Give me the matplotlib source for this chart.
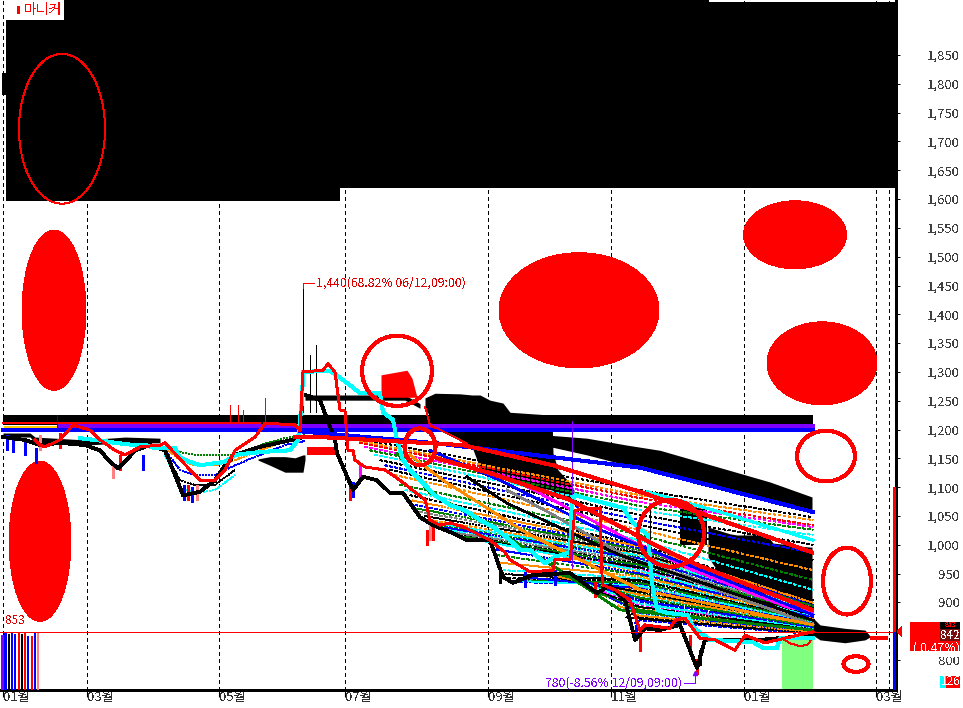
import matplotlib
matplotlib.use("Agg")
import matplotlib.pyplot as plt
from matplotlib.patches import Ellipse, Rectangle

plt.rcParams['font.family'] = ['Noto Sans CJK KR', 'DejaVu Sans']
plt.rcParams['lines.antialiased'] = False
plt.rcParams['patch.antialiased'] = False
plt.rcParams['text.antialiased'] = False

# ------------------ Axis values ------------------
month_x = [3, 87, 219, 345, 488, 611, 744, 876]
month_labels = ['01월', '03월', '05월', '07월', '09월', '11월', '01월', '03월']
extra_grid_x = [889]
price_ticks = [800, 900, 950, 1000, 1050, 1100, 1150, 1200, 1250, 1300, 1350, 1400,
               1450, 1500, 1550, 1600, 1650, 1700, 1750, 1800, 1850]

# ------------------ Volume bars ------------------
vol_x = [2.5, 5.5, 9, 12, 15, 19, 22, 25, 28, 32, 35, 38]
vol_top = [843, 847, 845, 849, 845, 847, 845, 849, 842, 842, 847, 849]
vol_colors = ['#8000ff', 'blue', 'black', 'blue', 'blue', 'red', 'black', 'red', 'blue', 'red', 'blue', '#ff8080']

# ------------------ Black clouds ------------------
cloud_a_x = [425, 435, 460, 472, 480, 490, 503, 510, 552, 553, 558, 570, 574]
cloud_a_top = [1255, 1263, 1262, 1260, 1260, 1251, 1246, 1230, 1225, 1159, 1130, 1107, 1095]
cloud_a_low = [1237, 1208, 1182, 1170, 1133, 1126, 1116, 1109, 1095, 1092, 1086, 1078, 1069]
cloud_b_x = [543, 587, 627, 660, 700, 770, 812]
cloud_b_top = [1191, 1185, 1173, 1164, 1144, 1109, 1083]
cloud_b_low = [1173, 1156, 1138, 1126, 1109, 1074, 1057]
cloud_c_x = [680, 707]
cloud_c_top = [1064, 1064]
cloud_c_low = [1000, 1000]
cloud_d_x = [708, 717, 730, 737, 767, 773, 810, 812]
cloud_d_top = [1031, 1026, 1019, 1017, 1017, 1003, 996, 996]
cloud_d_low = [979, 956, 939, 935, 916, 913, 890, 890]
cloud_e_x = [813, 820, 845, 865, 870]
cloud_e_top = [873, 861, 855, 852, 842]
cloud_e_low = [843, 835, 830, 835, 840]
cloud_f_x = [258, 270, 285, 295, 303, 305]
cloud_f_top = [1149, 1153, 1153, 1151, 1156, 1156]
cloud_f_low = [1147, 1138, 1126, 1126, 1126, 1147]
cloud_g_x = [3, 30, 35, 85, 125, 160]
cloud_g_top = [1194, 1194, 1187, 1182, 1187, 1185]
cloud_g_low = [1187, 1187, 1177, 1173, 1177, 1177]
bar_x = [305, 405, 420]
bar_top = [1260, 1260, 1245]
bar_low = [1251, 1251, 1237]

# ------------------ Moving average fan ------------------
fan_start_x = [350, 355, 360, 365, 370, 375, 380, 385, 390, 395, 400, 405, 410, 415, 420, 430, 440, 450, 460,
               470, 480, 490, 497, 503, 508, 515, 525, 535, 545, 555, 565, 575, 585, 595, 605, 615, 622, 630]
fan_start = [1187, 1182, 1177, 1170, 1164, 1156, 1147, 1138, 1130, 1121, 1104, 1095, 1086, 1069, 1057, 1043, 1034, 1026, 1017,
             1012, 1008, 1005, 982, 956, 942, 935, 939, 948, 948, 948, 949, 942, 930, 918, 913, 904, 887, 861]
fan_mid = [1095, 1086, 1081, 1074, 1067, 1060, 1052, 1043, 1034, 1026, 1017, 1008, 1000, 994, 989, 984, 979, 974, 968,
           963, 958, 953, 948, 942, 937, 932, 927, 921, 916, 911, 906, 901, 895, 890, 885, 880, 875, 869]
fan_end = [1048, 1043, 1034, 1031, 1026, 1017, 1000, 986, 974, 956, 939, 922, 904, 895, 892, 888, 885, 883, 880,
           878, 876, 875, 873, 869, 868, 866, 864, 862, 861, 859, 857, 855, 854, 852, 850, 849, 847, 845]
fan_colors = ['black', '#ff8c00', 'red', '#ff00ff', 'green', 'cyan', 'black', 'blue', 'black', '#ff8c00', 'green', 'cyan',
              'black', 'blue', '#808080', '#ff8c00', 'green', 'cyan', 'black', 'blue', '#ff00ff', '#ff8c00', 'green', 'cyan',
              'black', 'blue', '#808080', '#ff8c00', 'green', 'cyan', 'black', 'blue', '#ff00ff', '#ff8c00', 'green', 'cyan',
              'black', 'blue']

# in-between averages, the fan is very tight in the lower part only
fan2_start_x = [412, 417, 425, 435, 445, 455, 465,
                475, 485, 493, 500, 505, 511, 520, 530, 540, 550, 560, 570, 580, 590, 600, 610, 618, 626]
fan2_start = [1077, 1063, 1050, 1038, 1030, 1021, 1014,
              1010, 1006, 993, 969, 949, 938, 937, 943, 948, 948, 948, 945, 936, 924, 915, 908, 895, 874]
fan2_mid = [997, 991, 986, 981, 976, 971, 965,
            960, 955, 950, 945, 939, 934, 929, 924, 918, 913, 908, 903, 898, 892, 887, 882, 877, 872]
fan2_end = [899, 893, 890, 886, 884, 881, 879,
            877, 875, 874, 871, 868, 867, 865, 863, 861, 860, 858, 856, 854, 853, 851, 849, 848, 846]
fan2_colors = ['#ff8c00', 'green', 'black', 'cyan', 'blue', '#808080', 'green', 'black', 'cyan', 'blue', '#ff8c00', 'black',
               'green', 'cyan', 'blue', 'black', '#ff8c00', 'green', 'blue', 'cyan', 'black', 'green', 'blue', '#ff8c00', 'black']

# short averages around the dips in spring
dip_x = [165, 180, 195, 215, 235]
dip_1 = [1168, 1161, 1156, 1156, 1156]
dip_2 = [1168, 1147, 1138, 1138, 1147]
dip_3 = [1164, 1130, 1121, 1121, 1138]
dip_4 = [1160, 1112, 1104, 1104, 1130]
dip_5 = [1156, 1100, 1090, 1095, 1121]
dip_colors = ['green', '#ff8c00', 'blue', 'black', 'cyan']
rise_x = [235, 260, 285, 305]
rise_1 = [1156, 1173, 1185, 1190]
rise_2 = [1147, 1164, 1180, 1185]
rise_3 = [1138, 1156, 1173, 1180]

# heavier averages inside the fan
magenta_x = [520, 630, 693, 787, 813]
magenta_y = [1107, 1008, 956, 892, 883]
gray_x = [507, 550, 627, 813]
gray_y = [1095, 1055, 979, 861]
green_x = [397, 430, 480, 533, 620, 813]
green_y = [1159, 1090, 1043, 986, 887, 852]
orange_x = [410, 443, 527, 640, 813]
orange_y = [1156, 1112, 1020, 922, 861]
black_x = [467, 507, 620, 813]
black_y = [1118, 1072, 982, 869]
blue_x = [430, 500, 600, 813]
blue_y = [1164, 1112, 1026, 878]

# ------------------ Price path ------------------
low_a_x = [3, 25, 40, 60, 85, 100, 110, 118, 125, 135, 150, 165, 175, 183, 200, 215, 225, 235, 260, 300]
low_a = [1187, 1182, 1173, 1177, 1173, 1164, 1144, 1133, 1144, 1164, 1173, 1164, 1121, 1086, 1092, 1112, 1138, 1156, 1170, 1185]
low_b_x = [305, 320, 335, 337, 353, 363, 377, 390, 403, 420, 433, 453, 467, 490, 503, 513, 533, 570, 597, 610,
           625, 635, 645, 660, 680, 690, 697, 705, 725, 760, 813]
low_b = [1260, 1251, 1182, 1159, 1095, 1118, 1112, 1090, 1090, 1048, 1034, 1020, 1008, 1008, 944, 934, 948, 951, 916, 930,
         904, 835, 855, 852, 861, 817, 786, 835, 835, 835, 843]

wick_x = [7, 13, 25, 36, 40, 60, 113, 120, 143, 184, 188, 192, 197, 350, 353, 360, 430, 427, 433, 500, 525, 555, 595, 640, 636, 690, 697, 700]
wick_low = [1164, 1161, 1156, 1142, 1164, 1168, 1116, 1130, 1130, 1078, 1078, 1074, 1078, 1078, 1083, 1112, 1008, 1000, 1008, 934, 927, 930, 909, 816, 835, 817, 775, 791]
wick_high = [1190, 1187, 1182, 1168, 1190, 1194, 1142, 1156, 1156, 1104, 1104, 1100, 1104, 1104, 1109, 1138, 1034, 1026, 1034, 960, 953, 956, 935, 842, 861, 843, 801, 817]
wick_colors = ['blue', 'blue', 'blue', 'blue', '#ff8080', 'red', '#ff8080', 'red', 'blue', 'blue', 'red', 'blue', '#ff8080',
               'red', 'blue', '#ff00ff', '#ff8080', 'red', 'red', 'black', 'blue', 'blue', 'red', 'red', 'blue', 'red', 'red', 'black']
spike_x = [57, 230, 238, 243, 265, 303, 310, 316]
spike_high = [1225, 1243, 1243, 1234, 1255, 1446, 1330, 1347]
spike_low = [1205, 1215, 1215, 1215, 1215, 1230, 1230, 1230]
spike_colors = ['blue', 'red', 'red', 'red', 'red', 'black', 'black', 'black']

# ------------------ Thick overlay lines ------------------
cyan_x = [80, 105, 115, 135, 145, 155, 165, 175, 180, 190, 200, 225, 235, 260, 290, 298, 302, 303, 330, 340, 350, 360, 380, 383, 393,
          397, 403, 410, 435, 450, 465, 480, 495, 510, 520, 530, 545, 555, 570, 572, 575, 623, 633, 648, 652, 657, 667, 687, 693, 710,
          753, 763, 777, 780, 813]
cyan_y = [1185, 1180, 1177, 1173, 1173, 1168, 1168, 1168, 1151, 1144, 1138, 1144, 1156, 1161, 1164, 1182, 1251, 1300, 1302, 1290, 1277, 1263, 1263, 1230, 1217,
          1182, 1147, 1130, 1086, 1069, 1060, 1043, 1029, 1008, 991, 991, 968, 979, 987, 1078, 1086, 1064, 1038, 1017, 934, 887, 882, 878, 857, 835,
          831, 821, 821, 838, 838]
cyan2_x = [647, 720, 813]
cyan2_y = [1092, 1057, 1008]

red_a_x = [295, 320, 463, 553, 640, 812]
red_a_y = [1187, 1187, 1173, 1138, 1092, 987]
red_b_x = [437, 487, 570, 660, 693, 812]
red_b_y = [1150, 1126, 1078, 995, 968, 887]
red_c_x = [300, 303, 323, 328, 335, 340, 345, 348, 353, 355, 365, 385, 400, 425, 430, 440, 450, 463, 490, 505, 510, 530, 553, 555, 570,
           575, 600, 602, 603, 615, 630, 640, 645, 670, 675, 685, 690, 700, 715, 735, 745, 765, 813]
red_c_y = [1199, 1300, 1303, 1314, 1300, 1234, 1232, 1164, 1164, 1147, 1135, 1130, 1112, 1078, 1043, 1034, 1038, 1031, 1008, 987, 974, 953, 956, 974, 974,
           1060, 1064, 948, 930, 922, 904, 852, 861, 855, 869, 873, 861, 838, 835, 817, 843, 830, 849]
red_d_x = [35, 40, 45, 60, 73, 90, 100, 115, 125, 140, 160, 165, 190, 200, 215, 225, 235, 255, 265, 295, 300]
red_d_y = [1182, 1173, 1170, 1182, 1208, 1199, 1182, 1164, 1156, 1170, 1173, 1177, 1130, 1112, 1112, 1130, 1164, 1187, 1211, 1208, 1199]
blue_e_x = [300, 437, 640, 813]
blue_e_y = [1197, 1176, 1134, 1057]
thin_red_x = [425, 430, 460, 470]
thin_red_y = [1240, 1208, 1182, 1172]
green_curve_x = [782, 790, 800, 808, 813]
green_curve_y = [838, 829, 824, 827, 840]

# ------------------ Drawn shapes: x, price, width, height ------------------
solid_x = [54, 40, 579, 795, 822]
solid_p = [1407, 1006, 1407, 1538, 1315]
solid_w = [64, 62, 160, 103, 110]
solid_h = [278, 278, 200, 118, 144]
ring_x = [62, 397, 420, 671, 826, 847, 856]
ring_p = [1722, 1302, 1170, 1020, 1154, 937, 793]
ring_w = [86, 70, 31, 66, 58, 48, 25]
ring_h = [260, 122, 64, 116, 88, 116, 27]
ring_lw = [0.7, 2.2, 2.2, 2.2, 2.2, 2.2, 2.2]

# ------------------ Figure ------------------
fig = plt.figure(figsize=(9.63, 7.08), dpi=100)
ax = fig.add_axes([0, 18 / 708, 896 / 963, 690 / 708])
ax.set_xlim(0, 896)
ax.set_ylim(748, 1945.5)

for x in month_x + extra_grid_x:
    ax.axvline(x, color='black', lw=0.7, linestyle=(0, (4, 4)), zorder=1)

# top black block
ax.fill_between([6, 340], 1597, 1945.5, color='black', lw=0, zorder=2)
ax.fill_between([340, 895], 1619, 1942, color='black', lw=0, zorder=2)
ax.fill_between([340, 709], 1942, 1945.5, color='black', lw=0, zorder=2)
ax.fill_between([2, 6], 1780, 1818, color='black', lw=0, zorder=2)

# clouds
for cx, ct, cl in [(cloud_a_x, cloud_a_top, cloud_a_low), (cloud_b_x, cloud_b_top, cloud_b_low),
                   (cloud_c_x, cloud_c_top, cloud_c_low), (cloud_d_x, cloud_d_top, cloud_d_low),
                   (cloud_e_x, cloud_e_top, cloud_e_low), (cloud_f_x, cloud_f_top, cloud_f_low),
                   (cloud_g_x, cloud_g_top, cloud_g_low), (bar_x, bar_top, bar_low)]:
    ax.fill_between(cx, cl, ct, color='black', lw=0, zorder=2)

# red clouds
ax.fill_between([381, 407, 412, 417], [1256, 1256, 1256, 1256], [1295, 1303, 1289, 1256], color='red', lw=0, zorder=2)
ax.fill_between([307, 338], 1156, 1170, color='red', lw=0, zorder=2)
ax.fill_between([870, 888], 835, 842, color='red', lw=0, zorder=2)

# green zone
ax.fill_between([782, 813], 748, 838, color='#80ff80', lw=0, zorder=2)
ax.plot(green_curve_x, green_curve_y, color='red', lw=0.7, zorder=3)

# long flat band
ax.fill_between([3, 813], 1208, 1225, color='black', lw=0, zorder=3)
ax.plot([3, 260], [1211, 1211], color='red', lw=1.2, zorder=3)
ax.plot([5, 60], [1205, 1205], color='#ffd000', lw=1, zorder=3)
ax.plot([60, 813], [1206, 1206], color='#8000ff', lw=1.5, zorder=3)
ax.plot([3, 813], [1199, 1199], color='blue', lw=2.6, zorder=3)

# fan lines
for i in range(len(fan_start_x)):
    ax.plot([fan_start_x[i], 640, 813], [fan_start[i], fan_mid[i], fan_end[i]],
            color=fan_colors[i], lw=0.7, linestyle=(0, (3, 3)), zorder=4)
for i in range(len(fan2_start_x)):
    ax.plot([fan2_start_x[i], 640, 813], [fan2_start[i], fan2_mid[i], fan2_end[i]],
            color=fan2_colors[i], lw=0.7, linestyle=(0, (2, 2)), zorder=4)

for dy, c in zip([dip_1, dip_2, dip_3, dip_4, dip_5], dip_colors):
    ax.plot(dip_x, dy, color=c, lw=0.7, linestyle=(0, (2, 2)), zorder=4)
for ry, c in [(rise_1, 'green'), (rise_2, '#ff8c00'), (rise_3, 'blue')]:
    ax.plot(rise_x, ry, color=c, lw=0.7, linestyle=(0, (2, 2)), zorder=4)

for hx, hy, c in [(magenta_x, magenta_y, '#ff00ff'), (gray_x, gray_y, '#808080'), (green_x, green_y, 'green'),
                  (orange_x, orange_y, '#ff8c00'), (black_x, black_y, 'black'), (blue_x, blue_y, 'blue')]:
    ax.plot(hx, hy, color=c, lw=1.2, zorder=5)

# wicks and price path
ax.vlines(wick_x, wick_low, wick_high, colors=wick_colors, lw=0.9, zorder=5)
ax.vlines(spike_x, spike_low, spike_high, colors=spike_colors, lw=0.7, zorder=5)
ax.vlines([572], 960, 1215, colors='#8000ff', lw=0.7, zorder=5)
ax.vlines([650], 910, 1060, colors='black', lw=0.7, zorder=5)
ax.plot(low_a_x, low_a, color='black', lw=2, zorder=6)
ax.plot(low_b_x, low_b, color='black', lw=2, zorder=6)

# thick overlays
ax.plot(cyan_x, cyan_y, color='cyan', lw=2.2, zorder=7)
ax.plot(cyan2_x, cyan2_y, color='cyan', lw=1.5, zorder=7)
ax.plot(blue_e_x, blue_e_y, color='blue', lw=2.2, zorder=7)
ax.plot(red_a_x, red_a_y, color='red', lw=2.2, zorder=8)
ax.plot(red_b_x, red_b_y, color='red', lw=2.2, zorder=8)
ax.plot(red_c_x, red_c_y, color='red', lw=1.4, zorder=8)
ax.plot(red_d_x, red_d_y, color='red', lw=1.4, zorder=8)
ax.plot(thin_red_x, thin_red_y, color='red', lw=0.7, linestyle=(0, (2, 1)), zorder=8)

# volume bars
ax.bar(vol_x, [v - 748 for v in vol_top], bottom=748, width=2.2, color=vol_colors, lw=0, zorder=4)

# current price line
ax.axhline(849, color='red', lw=0.7, zorder=9)

# hand drawn shapes
for i in range(len(solid_x)):
    ax.add_patch(Ellipse((solid_x[i], solid_p[i]), solid_w[i], solid_h[i], facecolor='red', edgecolor='none', zorder=3))
for i in range(len(ring_x)):
    ax.add_patch(Ellipse((ring_x[i], ring_p[i]), ring_w[i], ring_h[i], facecolor='none', edgecolor='red', lw=ring_lw[i], zorder=10))

# notes
ax.plot([303, 303, 314], [1446, 1454, 1454], color='red', lw=0.7, zorder=10)
ax.text(316, 1454, '1,440(68.82% 06/12,09:00)', color='#e00000', fontsize=8.8, va='center', ha='left', zorder=10)
ax.plot([684, 695, 695], [760, 760, 775], color='#8000ff', lw=0.7, zorder=10)
ax.plot([695], [778], marker='^', ms=3, color='#8000ff', zorder=10)
ax.text(682, 760, '780(-8.56% 12/09,09:00)', color='#8000ff', fontsize=8.8, va='center', ha='right', zorder=10)
ax.text(5, 868, '853', color='#e00000', fontsize=8.5, va='center', ha='left', zorder=10)

# legend box
ax.add_patch(Rectangle((6, 1911), 58, 35, facecolor='white', edgecolor='none', zorder=11))
ax.add_patch(Rectangle((17, 1921), 3, 14, facecolor='red', edgecolor='none', zorder=12))
ax.text(24, 1928, '마니커', color='red', fontsize=10, va='center', ha='left', zorder=12)

# right side bar and price tag
ax.vlines(894.5, 849, 1100, colors='red', lw=2.2, zorder=10)
ax.vlines(894.5, 748, 849, colors='blue', lw=2.2, zorder=10)
ax.fill([897, 902, 902], [849, 858, 840], color='red', lw=0, clip_on=False, zorder=10)
ax.add_patch(Rectangle((910, 816), 50, 50, facecolor='red', edgecolor='none', clip_on=False, zorder=10))
ax.add_patch(Rectangle((940, 854), 20, 12, facecolor='black', edgecolor='none', clip_on=False, zorder=10))
ax.text(950, 860, '853', color='red', fontsize=5, ha='center', va='center', clip_on=False, zorder=11)
ax.add_patch(Rectangle((940, 833), 20, 21, facecolor='#7a1010', edgecolor='none', clip_on=False, zorder=12))
ax.text(950, 843, '842', color='white', fontsize=8.5, ha='center', va='center', clip_on=False, zorder=13)
ax.text(960, 821, '( 0.47%)', color='white', fontsize=9, ha='right', va='center', clip_on=False, zorder=11)
ax.add_patch(Rectangle((905, 806), 58, 10, facecolor='white', edgecolor='none', clip_on=False, zorder=12))
ax.add_patch(Rectangle((940, 751), 6, 22, facecolor='cyan', edgecolor='none', clip_on=False, zorder=10))
ax.add_patch(Rectangle((946, 751), 14, 22, facecolor='red', edgecolor='none', clip_on=False, zorder=10))
ax.text(941, 762, '126', color='white', fontsize=8.5, ha='left', va='center', clip_on=False, zorder=11)

# axes
ax.spines['top'].set_visible(False)
ax.spines['left'].set_visible(False)
ax.spines['right'].set_linewidth(0.8)
ax.spines['bottom'].set_linewidth(1)
ax.yaxis.tick_right()
ax.set_yticks(price_ticks)
ax.set_yticklabels([f'{p:,}' for p in price_ticks], fontsize=9.5, color='#404040', ha='right')
ax.tick_params(axis='y', length=3, width=0.7, pad=43, color='black')
ax.set_xticks(month_x)
ax.set_xticklabels(month_labels, fontsize=9.5, color='#303030', ha='left')
ax.tick_params(axis='x', length=5, width=0.8, pad=-4, direction='out')

fig.savefig('out.png', dpi=100)
